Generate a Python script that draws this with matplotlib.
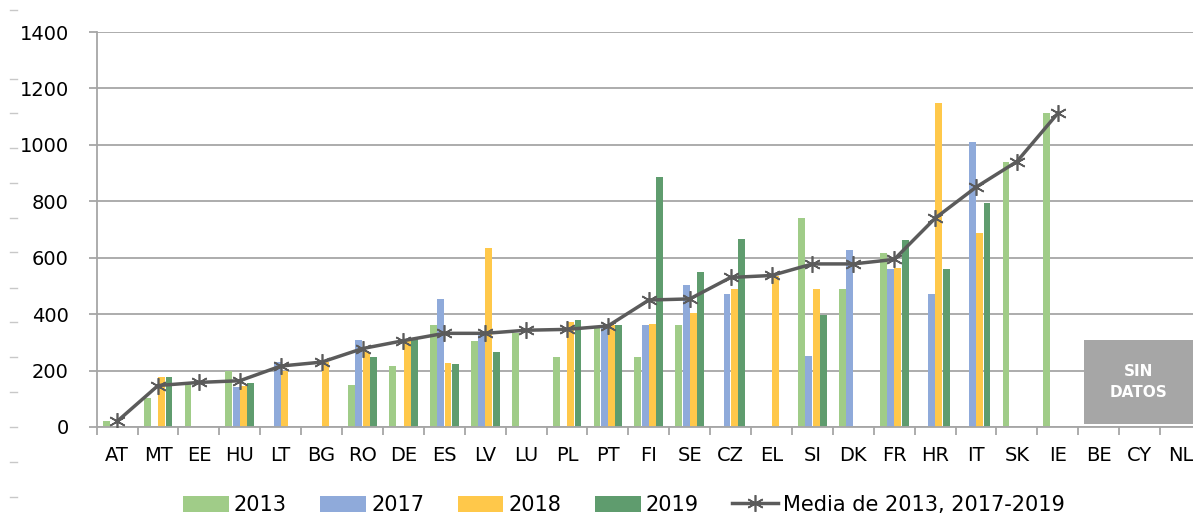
import numpy as np
import matplotlib
matplotlib.use('Agg')
from matplotlib import pyplot as plt
from matplotlib.patches import Rectangle, Patch
from matplotlib.lines import Line2D

countries = ['AT', 'MT', 'EE', 'HU', 'LT', 'BG', 'RO', 'DE', 'ES', 'LV', 'LU', 'PL', 'PT', 'FI',
             'SE', 'CZ', 'EL', 'SI', 'DK', 'FR', 'HR', 'IT', 'SK', 'IE', 'BE', 'CY', 'NL']
nan = np.nan
v2013 = [22, 103, 151, 198, nan, nan, 150, 216, 362, 305, 334, 248, 356, 247,
         362, nan, nan, 742, 490, 618, nan, nan, 941, 1112, nan, nan, nan]
v2017 = [nan, nan, nan, 141, 230, nan, 308, nan, 455, 332, nan, nan, 356, 362,
         503, 473, nan, 252, 626, 561, 473, 1011, nan, nan, nan, nan, nan]
v2018 = [nan, 176, nan, 145, 198, 230, 265, 311, 226, 636, nan, 371, 362, 366,
         405, 490, 535, 490, nan, 565, 1147, 689, nan, nan, nan, nan, nan]
v2019 = [nan, 176, nan, 155, nan, nan, 247, 311, 222, 265, nan, 380, 362, 886,
         548, 668, nan, 396, nan, 662, 561, 795, nan, nan, nan, nan, nan]
media = [20, 147, 158, 164, 216, 230, 278, 306, 332, 332, 343, 346, 358, 450,
         454, 530, 537, 578, 578, 594, 740, 850, 941, 1112, nan, nan, nan]

series = [('2013', v2013, '#A0CC88'), ('2017', v2017, '#8FAADA'),
          ('2018', v2018, '#FFC84A'), ('2019', v2019, '#5F9C6E')]

fig = plt.figure(figsize=(11.93, 5.16), dpi=100)
ax = fig.add_axes([96.7 / 1193, 1 - 427 / 516, 27 * 40.9 / 1193, 395 / 516])

x = np.arange(len(countries))
w = 0.178
for i, (name, vals, col) in enumerate(series):
    ax.bar(x + (i - 1.5) * w, vals, width=w * 0.95, color=col, zorder=2)

ax.plot(x, media, color='#5B5B5B', lw=2.5, marker=(6, 2, 0), markersize=12,
        markeredgewidth=1.2, zorder=3)

# "SIN DATOS" box
ax.add_patch(Rectangle((23.64, 11), 2.8, 297, facecolor='#A6A6A6', edgecolor='none',
                       zorder=2, clip_on=False))
ax.text(24.98, 160, 'SIN\nDATOS', color='white', ha='center', va='center',
        fontsize=11, fontweight='bold', linespacing=1.5, zorder=3)

ax.set_xlim(-0.5, 26.5)
ax.set_ylim(0, 1400)
ax.set_yticks(range(0, 1401, 200))
ax.set_xticks(x)
ax.set_xticklabels(countries)
ax.set_xticks(np.arange(-0.5, 27, 1), minor=True)
ax.grid(axis='y', color='#A6A6A6', lw=1.3, zorder=0)
for s in ['top', 'right']:
    ax.spines[s].set_visible(False)
ax.spines['left'].set_color('#A6A6A6')
ax.spines['bottom'].set_color('#A6A6A6')
ax.spines['left'].set_linewidth(1.3)
ax.spines['bottom'].set_linewidth(1.3)
ax.tick_params(axis='x', which='major', length=0, pad=14, labelsize=14)
ax.tick_params(axis='x', which='minor', length=6, color='#A6A6A6', width=1.3)
ax.tick_params(axis='y', length=6, color='#A6A6A6', width=1.3, pad=14, labelsize=14)

# faint dashes in the left margin
for yy in [10, 79, 113, 148, 183, 218, 252, 288, 322, 357, 392, 427, 462, 497]:
    fig.add_artist(Line2D([10 / 1193, 17 / 1193], [1 - yy / 516, 1 - yy / 516],
                          color='#C8C8C8', lw=1))

handles = [Patch(facecolor=c, edgecolor='none') for _, _, c in series]
handles.append(Line2D([], [], color='#5B5B5B', lw=2.5, marker=(6, 2, 0),
                      markersize=12, markeredgewidth=1.2))
labels = [s[0] for s in series] + ['Media de 2013, 2017-2019']
fig.legend(handles, labels, loc='center', bbox_to_anchor=(624 / 1193, 1 - 505 / 516),
           ncol=5, frameon=False, fontsize=15, handlelength=2.2, handleheight=0.8,
           handletextpad=0.25, columnspacing=1.6)

plt.savefig('out.png', dpi=100)
